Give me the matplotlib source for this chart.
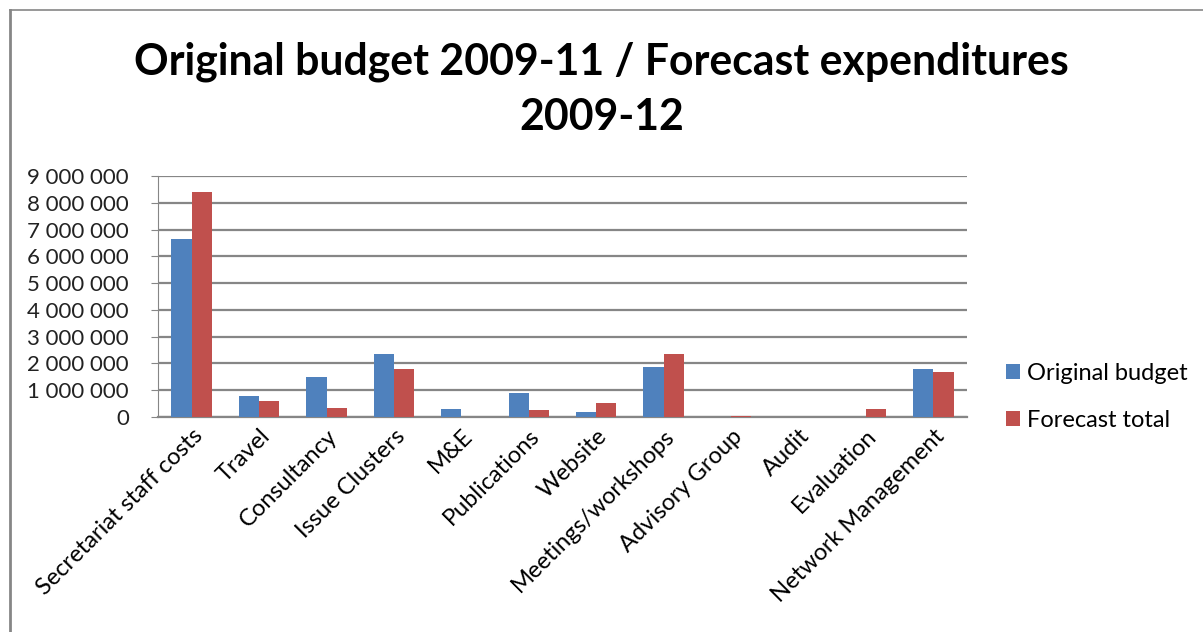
import matplotlib.pyplot as plt
import numpy as np
from matplotlib.ticker import FuncFormatter

categories = ['Secretariat staff costs', 'Travel', 'Consultancy', 'Issue Clusters',
              'M&E', 'Publications', 'Website', 'Meetings/workshops',
              'Advisory Group', 'Audit', 'Evaluation', 'Network Management']
original_budget = [6640000, 780000, 1490000, 2350000, 300000, 900000,
                   190000, 1870000, 0, 0, 0, 1800000]
forecast_total = [8400000, 600000, 340000, 1790000, 0, 270000,
                  520000, 2350000, 50000, 0, 300000, 1680000]

blue = '#4F81BD'
red = '#C0504D'
grid_c = '#868686'

plt.rcParams['font.family'] = ['Lato', 'DejaVu Sans']

fig = plt.figure(figsize=(12.03, 6.32), dpi=100)
ax = fig.add_axes([158 / 1203, 1 - 417 / 632, (967 - 158) / 1203, (417 - 176) / 632])

x = np.arange(len(categories))
w = 0.3
ax.bar(x - w / 2, original_budget, w, color=blue, label='Original budget', zorder=3)
ax.bar(x + w / 2, forecast_total, w, color=red, label='Forecast total', zorder=3)

ax.set_xlim(-0.5, len(categories) - 0.5)
ax.set_ylim(0, 9000000)
ax.set_yticks(np.arange(0, 9000001, 1000000))
ax.yaxis.set_major_formatter(FuncFormatter(lambda v, p: f'{int(v):,}'.replace(',', ' ')))
ax.grid(axis='y', color=grid_c, linewidth=1.6, zorder=0)
ax.set_axisbelow(True)
for s in ['top', 'right']:
    ax.spines[s].set_visible(False)
ax.spines['left'].set_color(grid_c)
ax.spines['bottom'].set_color(grid_c)
ax.spines['bottom'].set_linewidth(1.6)
ax.tick_params(axis='y', colors=grid_c, length=5, labelsize=16, labelcolor='#222222', pad=16)
ax.tick_params(axis='x', length=0, labelsize=17, pad=6)
ax.set_xticks(x)
ax.set_xticklabels(categories, rotation=45, ha='right', rotation_mode='anchor')

fig.text(0.5, 1 - 62 / 632, 'Original budget 2009-11 / Forecast expenditures',
         ha='center', va='center', fontsize=30.8, fontweight='bold')
fig.text(0.5, 1 - 117 / 632, '2009-12', ha='center', va='center',
         fontsize=30.8, fontweight='bold')

ax.legend(loc='center left', bbox_to_anchor=(1.022, 0.083), frameon=False,
          fontsize=17, handlelength=0.6, handleheight=0.6, labelspacing=1.1,
          handletextpad=0.3)

# outer chart border (only left and top edges visible)
fig.add_artist(plt.Line2D([10 / 1203, 10 / 1203], [0, 1 - 10 / 632],
                          transform=fig.transFigure, color=grid_c, linewidth=2))
fig.add_artist(plt.Line2D([10 / 1203, 1], [1 - 10 / 632, 1 - 10 / 632],
                          transform=fig.transFigure, color=grid_c, linewidth=1.2))

fig.savefig('out.png', dpi=100)
